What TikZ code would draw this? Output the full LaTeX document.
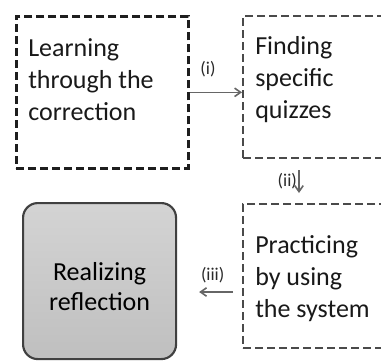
\documentclass[tikz,border=0pt]{standalone}
\usepackage{fontspec}
\setmainfont{Carlito}
\usepackage{tikz}
\usetikzlibrary{arrows.meta}
\usetikzlibrary{positioning}

\definecolor{boxline}{HTML}{1E1E1E}
\definecolor{thinline}{HTML}{4A4A4A}
\definecolor{arrowgray}{HTML}{666666}
\definecolor{labelgray}{HTML}{2A2A2A}

\begin{document}
\begin{tikzpicture}[x=0.75pt, y=-0.75pt,
    stepbox/.style={rectangle, draw=thinline, line width=1.5pt, dash pattern=on 6pt off 3pt, inner sep=0pt, anchor=north west},
    boxtext/.style={font=\fontsize{19.5}{24}\selectfont, align=left, inner sep=0pt, anchor=west, text=black!90},
    arr/.style={draw=arrowgray, line width=1.2pt, -{Straight Barb[angle=70:5.5pt]}},
    steplabel/.style={font=\fontsize{13.5}{15}\selectfont, text=labelgray, inner sep=1pt}]
    \useasboundingbox (0, 0) rectangle (381, 362);

    % draw thick dashed start box
    \node[stepbox, draw=boxline, line width=2pt, minimum width=129pt, minimum height=114pt] (learn) at (15, 15) {};
    \node[boxtext] (learntxt) at (28, 80) {Learning\\through the\\correction};

    % draw thin dashed boxes
    \node[stepbox, minimum width=112.5pt, minimum height=106.5pt] (find) at (242, 15) {};
    \node[boxtext] (findtxt) at (255, 80) {Finding\\specific\\quizzes};

    \node[stepbox, minimum width=112.5pt, minimum height=108pt] (practice) at (242, 203) {};
    \node[boxtext] (practicetxt) at (255, 279) {Practicing\\by using\\the system};

    % draw grey end box
    \node[rectangle, rounded corners=11pt, draw=black!75, line width=1.6pt, top color=black!17, bottom color=black!25,
        minimum width=114.75pt, minimum height=117pt, anchor=north west, inner sep=0pt,
        font=\fontsize{19.5}{23}\selectfont, align=center] (realize) at (22, 202) {\rule{0pt}{22pt}Realizing\\reflection};

    % draw arrows
    \draw[arr] (learn.east) -- (learn.east -| find.west) node[steplabel, pos=0.35, above=10pt] (lbli) {(i)};
    \coordinate (iitop) at ([shift={(57, 11)}]find.south west);
    \coordinate (iibot) at ([shift={(57, -10)}]practice.north west);
    \draw[arr] (iitop) -- (iibot) node[steplabel, midway, left=0pt] (lblii) {(ii)};
    \coordinate (iiistart) at ([shift={(-9, 16)}]practice.west);
    \coordinate (iiiedge) at ([xshift=16.5pt]realize.east);
    \draw[arr] (iiistart) -- (iiistart -| iiiedge) node[steplabel, pos=0.6, above=5pt] (lbliii) {(iii)};
\end{tikzpicture}
\end{document}
